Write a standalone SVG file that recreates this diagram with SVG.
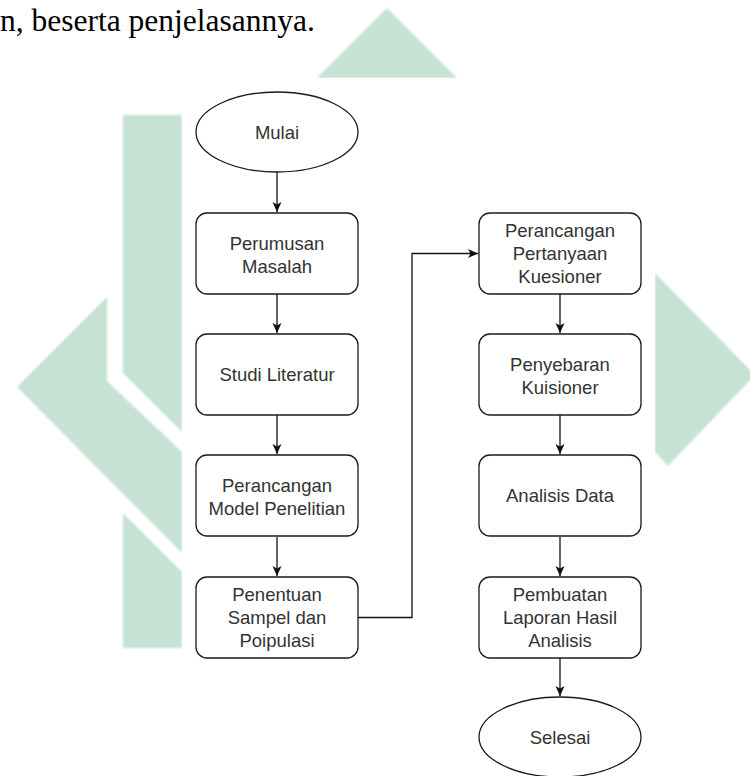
<svg xmlns="http://www.w3.org/2000/svg" width="750" height="776" viewBox="0 0 750 776">
<style>
.wm{fill:#c6e2d4}
.box{fill:#fff;stroke:#1a1a1a;stroke-width:1.3}
.lbl{font-family:"Liberation Sans",Arial,sans-serif;font-size:18.5px;fill:#333;text-anchor:middle}
.con{fill:none;stroke:#111;stroke-width:1.3}
.pg{font-family:"Liberation Serif","Times New Roman",serif;font-size:31.5px;fill:#000}
</style>
<defs>
<filter id="soft" x="-5%" y="-5%" width="110%" height="110%"><feGaussianBlur stdDeviation="0.8"/></filter>
<marker id="arr" viewBox="0 0 10 10" refX="10" refY="5" markerWidth="10" markerHeight="10" markerUnits="userSpaceOnUse" orient="auto">
<path d="M0,0.5 L10,5 L0,9.5 L2.5,5 z" fill="#111"/>
</marker>
</defs>
<rect width="750" height="776" fill="#fff"/>
<g id="watermark" filter="url(#soft)">
<polygon class="wm" points="387,8 317,78 457,78"/>
<polygon class="wm" points="123,115 182,115 182,432 123,373"/>
<polygon class="wm" points="17,387 107,297 107,381 182,452 182,553"/>
<polygon class="wm" points="123,513 182,572 182,648 123,648"/>
<polygon class="wm" points="655,273 752,372 752,378 668,466 655,452"/>
</g>
<text class="pg" x="0" y="31">n, beserta penjelasannya.</text>
<rect x="182" y="78" width="473" height="698" fill="#fff"/>
<g id="connectors">
<path class="con" d="M277,172 V212" marker-end="url(#arr)"/>
<path class="con" d="M277,294 V333" marker-end="url(#arr)"/>
<path class="con" d="M277,415 V454" marker-end="url(#arr)"/>
<path class="con" d="M277,537 V576" marker-end="url(#arr)"/>
<path class="con" d="M358,617.5 H412 V253.5 H478" marker-end="url(#arr)"/>
<path class="con" d="M560,294 V333" marker-end="url(#arr)"/>
<path class="con" d="M560,415 V454" marker-end="url(#arr)"/>
<path class="con" d="M560,537 V576" marker-end="url(#arr)"/>
<path class="con" d="M560,658 V696" marker-end="url(#arr)"/>
</g>
<g id="mulai"><ellipse class="box" cx="277" cy="132" rx="81" ry="40"/><text class="lbl" x="277" y="139">Mulai</text></g>
<g id="perumusan"><rect class="box" x="196" y="213" width="162" height="81" rx="11"/><text class="lbl" x="277" y="250">Perumusan</text><text class="lbl" x="277" y="273">Masalah</text></g>
<g id="studi"><rect class="box" x="196" y="334" width="162" height="81" rx="11"/><text class="lbl" x="277" y="381">Studi Literatur</text></g>
<g id="model"><rect class="box" x="196" y="455" width="162" height="81" rx="11"/><text class="lbl" x="277" y="492">Perancangan</text><text class="lbl" x="277" y="515">Model Penelitian</text></g>
<g id="sampel"><rect class="box" x="196" y="577" width="162" height="81" rx="11"/><text class="lbl" x="277" y="601">Penentuan</text><text class="lbl" x="277" y="624">Sampel dan</text><text class="lbl" x="277" y="647">Poipulasi</text></g>
<g id="pertanyaan"><rect class="box" x="479" y="213" width="162" height="81" rx="11"/><text class="lbl" x="560" y="237">Perancangan</text><text class="lbl" x="560" y="260">Pertanyaan</text><text class="lbl" x="560" y="283">Kuesioner</text></g>
<g id="penyebaran"><rect class="box" x="479" y="334" width="162" height="81" rx="11"/><text class="lbl" x="560" y="371">Penyebaran</text><text class="lbl" x="560" y="394">Kuisioner</text></g>
<g id="analisis"><rect class="box" x="479" y="455" width="162" height="81" rx="11"/><text class="lbl" x="560" y="502">Analisis Data</text></g>
<g id="laporan"><rect class="box" x="479" y="577" width="162" height="81" rx="11"/><text class="lbl" x="560" y="601">Pembuatan</text><text class="lbl" x="560" y="624">Laporan Hasil</text><text class="lbl" x="560" y="647">Analisis</text></g>
<g id="selesai"><ellipse class="box" cx="560" cy="737" rx="81" ry="40"/><text class="lbl" x="560" y="744">Selesai</text></g>
</svg>
